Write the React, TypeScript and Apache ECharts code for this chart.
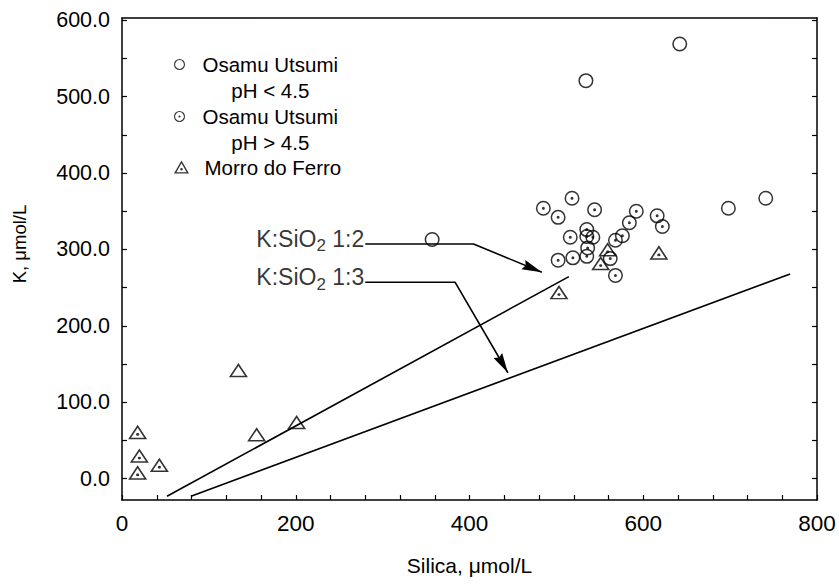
import React, { useEffect, useRef } from 'react';
import * as echarts from 'echarts';

const FONT = '"Liberation Sans", Arial, Helvetica, sans-serif';

// Silica (µmol/L), K (µmol/L)
const utsumiAcid = [[357, 313], [534, 521], [642, 569], [698, 354], [741, 367]];
const utsumiNeutral = [
  [485, 354], [502, 342], [518, 367], [544, 352], [592, 350], [584, 335],
  [576, 318], [568, 312], [616, 344], [622, 330], [516, 316], [535, 317],
  [542, 316], [535, 326], [502, 286], [519, 289], [535, 291], [536, 302],
  [568, 266], [562, 288],
];
const morroDoFerro = [[18, 61], [20, 30], [18, 8], [43, 18], [503, 244], [551, 282], [559, 300], [618, 296]];
const morroDoFerroOpen = [[134, 142], [155, 58], [201, 74]];

// K:SiO2 reference lines
const ratio12Line = [[51.8, -23.1], [514.4, 264.4]];
const ratio13Line = [[79.4, -23.1], [769.1, 268.0]];

// Leader lines from the ratio labels to the reference lines
const leader12 = [[280, 307.2], [404.6, 307.2], [483.3, 270.1]];
const leader13 = [[280, 257.0], [383.5, 257.0], [444.2, 138.6]];
const ratioNames = ['1:2', '1:3'];

// Axis extents and tick values
const X_MIN = 0;
const X_MAX = 800;
const Y_MIN = -28;
const Y_MAX = 603;
const xTickValues = [0, 40, 80, 120, 160, 200, 240, 280, 320, 360, 400, 440, 480, 520, 560, 600, 640, 680, 720, 760, 800];
const xLabelValues = [0, 200, 400, 600, 800];
const yTickValues = [0, 50, 100, 150, 200, 250, 300, 350, 400, 450, 500, 550, 600];
const yLabelValues = [0, 100, 200, 300, 400, 500, 600];

// Marker outlines (filled rings with holes, drawn in a 20-unit box)
const RING = 'M10 0A10 10 0 1 1 10 20A10 10 0 1 1 10 0Z M10 2A8 8 0 1 0 10 18A8 8 0 1 0 10 2Z';
const RING_DOT = 'M10 8A2 2 0 1 1 10 12A2 2 0 1 1 10 8Z';
const TRI = 'M10 0L20 17.32L0 17.32Z M10 3.6L3.12 15.52L16.88 15.52Z';
const TRI_DOT = 'M10 9.85A1.7 1.7 0 1 1 10 13.25A1.7 1.7 0 1 1 10 9.85Z';

const BLACK = '#000';

const axisLine = { show: true, onZero: false, lineStyle: { color: BLACK, width: 1.5 } };
const tickStyle = { color: BLACK, width: 1.2 };

// Filled arrowhead at the end of a segment [x0, y0, x1, y1] given in data units
function renderArrowhead(_params: unknown, api: any) {
  const a = api.coord([api.value(0), api.value(1)]);
  const b = api.coord([api.value(2), api.value(3)]);
  const dx = b[0] - a[0];
  const dy = b[1] - a[1];
  const len = Math.hypot(dx, dy) || 1;
  const ux = dx / len;
  const uy = dy / len;
  const length = 20;
  const halfWidth = 5;
  const notch = 17.5;
  const bx = b[0] - ux * length;
  const by = b[1] - uy * length;
  return {
    type: 'polygon',
    shape: {
      points: [
        [b[0], b[1]],
        [bx - uy * halfWidth, by + ux * halfWidth],
        [b[0] - ux * notch, b[1] - uy * notch],
        [bx + uy * halfWidth, by - ux * halfWidth],
      ],
    },
    style: { fill: BLACK },
  };
}

function buildOption() {
  const lineSeries = (data: number[][]) => ({
    type: 'line',
    data,
    symbol: 'none',
    showSymbol: false,
    silent: true,
    clip: false,
    lineStyle: { color: BLACK, width: 1.6 },
  });

  const markerSeries = (name: string, data: number[][], path: string, size: number | number[]) => ({
    type: 'scatter',
    name,
    data,
    symbol: 'path://' + path,
    symbolSize: size,
    symbolKeepAspect: true,
    itemStyle: { color: BLACK },
    clip: false,
    silent: true,
    legendHoverLink: false,
  });

  const twoLine = (name: string) => `{a|Osamu Utsumi}\n{b|${name.replace('Osamu Utsumi ', '')}}`;
  const legendRich = {
    a: { fontSize: 20.5, fontFamily: FONT, color: BLACK, lineHeight: 26 },
    b: { fontSize: 20.5, fontFamily: FONT, color: BLACK, lineHeight: 26, align: 'center' },
  };
  const legendBase = {
    orient: 'vertical',
    left: 174,
    padding: 0,
    itemWidth: 20,
    selectedMode: false,
  };

  return {
    animation: false,
    backgroundColor: '#fff',
    textStyle: { fontFamily: FONT, color: BLACK },
    grid: { left: 122, right: 22, top: 18, bottom: 86, containLabel: false, outerBoundsMode: 'none' },
    legend: [
      {
        ...legendBase,
        top: 54,
        itemHeight: 11,
        data: [{ name: 'Osamu Utsumi pH < 4.5', icon: 'path://' + RING }],
        formatter: twoLine,
        textStyle: { padding: [26, 0, 0, 8], rich: legendRich },
      },
      {
        ...legendBase,
        top: 106,
        itemHeight: 11,
        data: [{ name: 'Osamu Utsumi pH > 4.5', icon: 'path://' + RING + ' ' + RING_DOT }],
        formatter: twoLine,
        textStyle: { padding: [26, 0, 0, 8], rich: legendRich },
      },
      {
        ...legendBase,
        top: 154,
        itemHeight: 13,
        data: [{ name: 'Morro do Ferro', icon: 'path://' + TRI + ' ' + TRI_DOT }],
        textStyle: { fontSize: 20.5, fontFamily: FONT, color: BLACK, lineHeight: 26, padding: [0, 0, 0, 8] },
      },
    ],
    xAxis: [
      {
        type: 'value',
        min: X_MIN,
        max: X_MAX,
        position: 'bottom',
        axisLine,
        axisTick: { show: true, inside: true, length: 5, customValues: xTickValues, lineStyle: tickStyle },
        axisLabel: { customValues: xLabelValues, color: BLACK, fontSize: 22.5, fontFamily: FONT, margin: 12 },
        splitLine: { show: false },
        name: 'Silica, μmol/L',
        nameLocation: 'middle',
        nameGap: 55,
        nameTextStyle: { fontSize: 21, fontFamily: FONT, color: BLACK },
      },
      {
        type: 'value',
        min: X_MIN,
        max: X_MAX,
        position: 'top',
        axisLine,
        axisTick: { show: false },
        axisLabel: { show: false },
        splitLine: { show: false },
      },
    ],
    yAxis: [
      {
        type: 'value',
        min: Y_MIN,
        max: Y_MAX,
        position: 'left',
        axisLine,
        axisTick: { show: true, inside: true, length: 5, customValues: yTickValues, lineStyle: tickStyle },
        axisLabel: {
          customValues: yLabelValues,
          formatter: (v: number) => v.toFixed(1),
          color: BLACK,
          fontSize: 21.5,
          fontFamily: FONT,
          margin: 12,
        },
        splitLine: { show: false },
        name: 'K, μmol/L',
        nameLocation: 'middle',
        nameGap: 93,
        nameRotate: 90,
        nameTextStyle: { fontSize: 18.5, fontFamily: FONT, color: BLACK, padding: [0, 0, 0, 30] },
      },
      {
        type: 'value',
        min: Y_MIN,
        max: Y_MAX,
        position: 'right',
        axisLine,
        axisTick: { show: true, inside: true, length: 5, customValues: yTickValues, lineStyle: tickStyle },
        axisLabel: { show: false },
        splitLine: { show: false },
      },
    ],
    series: [
      lineSeries(ratio12Line),
      lineSeries(ratio13Line),
      lineSeries(leader12),
      lineSeries(leader13),
      {
        type: 'custom',
        coordinateSystem: 'cartesian2d',
        data: [
          [...leader12[1], ...leader12[2]],
          [...leader13[1], ...leader13[2]],
        ],
        encode: { x: [0, 2], y: [1, 3] },
        renderItem: renderArrowhead,
        clip: false,
        silent: true,
      },
      {
        type: 'scatter',
        data: [
          { value: leader12[0], name: ratioNames[0] },
          { value: leader13[0], name: ratioNames[1] },
        ],
        symbolSize: 0,
        clip: false,
        silent: true,
        label: {
          show: true,
          position: 'left',
          distance: 1,
          offset: [0, -5],
          formatter: (p: { name: string }) => `{t|K:SiO}{s|2}{t| ${p.name}}`,
          rich: {
            t: { fontSize: 23, fontFamily: FONT, color: BLACK },
            s: { fontSize: 17, fontFamily: FONT, color: BLACK, padding: [14, 0, 0, 0] },
          },
        },
      },
      markerSeries('Morro do Ferro, open', morroDoFerroOpen, TRI, [19, 16.5]),
      markerSeries('Morro do Ferro', morroDoFerro, TRI + ' ' + TRI_DOT, [19, 16.5]),
      markerSeries('Osamu Utsumi pH < 4.5', utsumiAcid, RING, 15),
      markerSeries('Osamu Utsumi pH > 4.5', utsumiNeutral, RING + ' ' + RING_DOT, 15),
    ],
  };
}

export default function App() {
  const ref = useRef<HTMLDivElement>(null);

  useEffect(() => {
    if (!ref.current) return;
    const chart = echarts.init(ref.current, null, { renderer: 'svg' });
    chart.setOption(buildOption() as any);
    return () => chart.dispose();
  }, []);

  return (
    <div
      ref={ref}
      style={{ position: 'fixed', left: 0, top: 0, width: '839px', height: '586px', background: '#fff' }}
    />
  );
}
